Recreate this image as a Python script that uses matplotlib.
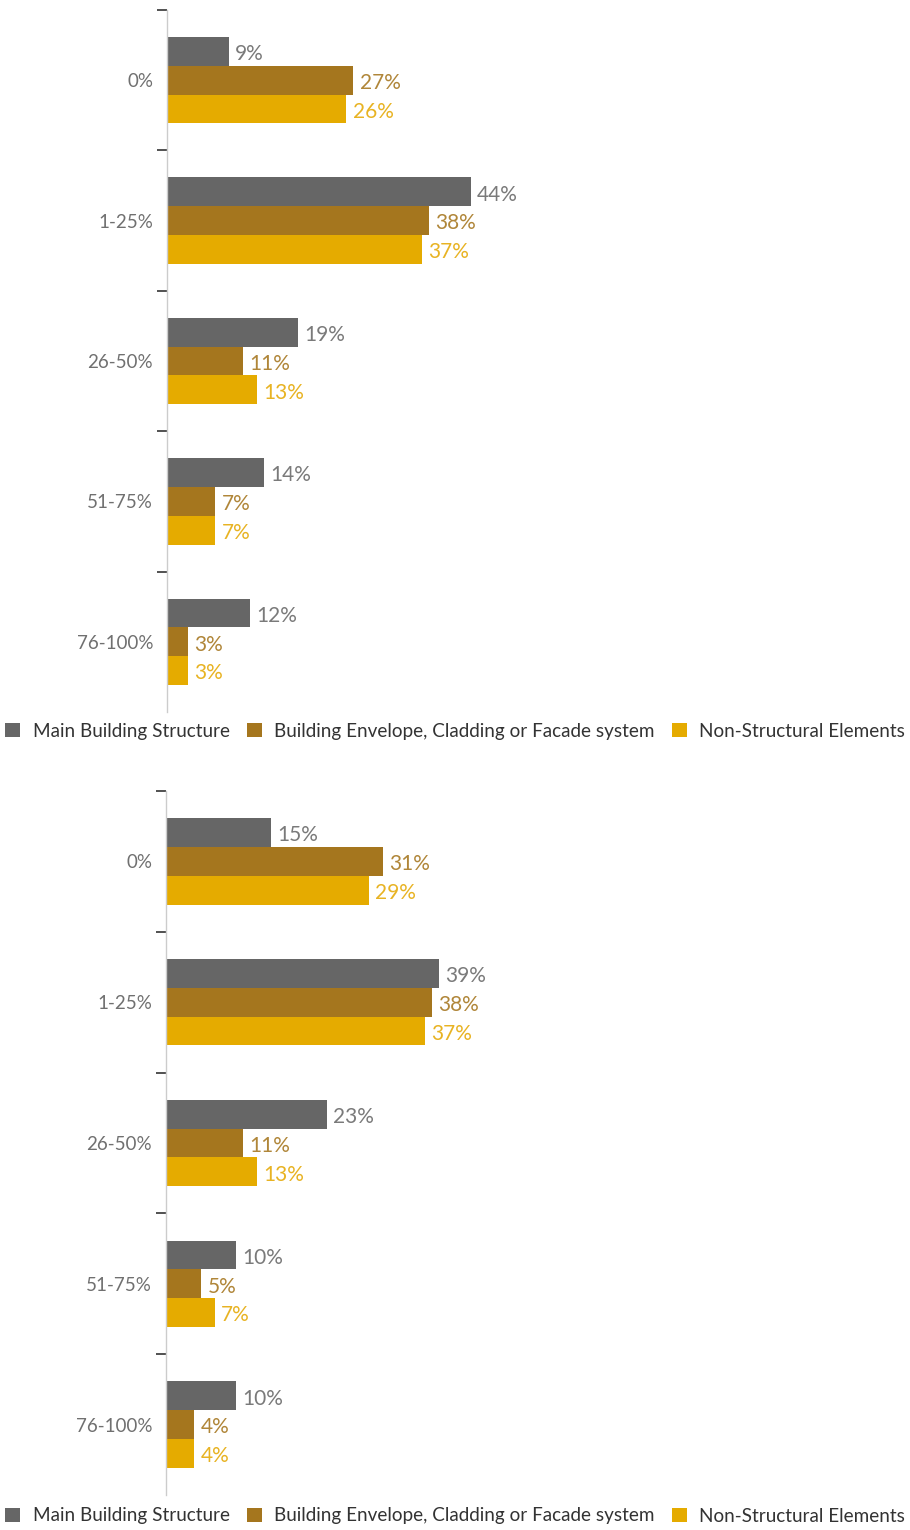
import matplotlib.pyplot as plt
from matplotlib.ticker import FixedLocator

plt.rcParams['font.family'] = ['Lato', 'DejaVu Sans']

categories = ['0%', '1-25%', '26-50%', '51-75%', '76-100%']
series = ['Main Building Structure', 'Building Envelope, Cladding or Facade system',
          'Non-Structural Elements']

# upper chart
top_main = [9, 44, 19, 14, 12]
top_envelope = [27, 38, 11, 7, 3]
top_nonstruct = [26, 37, 13, 7, 3]

# lower chart
bottom_main = [15, 39, 23, 10, 10]
bottom_envelope = [31, 38, 11, 5, 4]
bottom_nonstruct = [29, 37, 13, 7, 4]

bar_colors = ['#666666', '#A5761E', '#E5AB00']
text_colors = ['#7a7a7a', '#B08639', '#E8B323']

fig = plt.figure(figsize=(9.1, 15.3), dpi=100)
W, H = 910, 1530


def draw_panel(ax, values):
    bh = 0.205
    offsets = [-bh, 0, bh]
    for s, (vals, off) in enumerate(zip(values, offsets)):
        ys = [i + off for i in range(len(categories))]
        ax.barh(ys, vals, height=bh, color=bar_colors[s], label=series[s])
        for y, v in zip(ys, vals):
            ax.text(v + 0.9, y + 0.02, f'{v}%', va='center', ha='left',
                    fontsize=15, color=text_colors[s])
    ax.set_ylim(len(categories) - 0.5, -0.5)
    ax.set_xlim(0, 100)
    ax.set_yticks(range(len(categories)))
    ax.set_yticklabels(categories)
    ax.yaxis.set_minor_locator(FixedLocator([-0.5, 0.5, 1.5, 2.5, 3.5]))
    ax.tick_params(axis='y', which='major', length=0, pad=10,
                   labelsize=13.5, labelcolor='#707070')
    ax.tick_params(axis='y', which='minor', length=7, width=1.2, color='#333333')
    ax.set_xticks([])
    for side in ['top', 'right', 'bottom']:
        ax.spines[side].set_visible(False)
    ax.spines['left'].set_color('#cccccc')
    ax.spines['left'].set_linewidth(1)


def add_axes(left, top, bottom, right):
    return fig.add_axes([left / W, 1 - bottom / H, (right - left) / W, (bottom - top) / H])


ax1 = add_axes(167, 10, 712, 167 + 690)
draw_panel(ax1, [top_main, top_envelope, top_nonstruct])
ax2 = add_axes(166, 791, 1495, 166 + 700)
draw_panel(ax2, [bottom_main, bottom_envelope, bottom_nonstruct])

for ax, y in [(ax1, 731), (ax2, 1516)]:
    handles, labels = ax.get_legend_handles_labels()
    fig.legend(handles, labels, loc='center', bbox_to_anchor=(0.5, 1 - y / H),
               ncol=3, frameon=False, fontsize=13.6, handlelength=0.8,
               handleheight=0.8, handletextpad=0.65, columnspacing=0.9,
               labelcolor='#333333', borderaxespad=0, borderpad=0)

fig.savefig('out.png', dpi=100, facecolor='white')
